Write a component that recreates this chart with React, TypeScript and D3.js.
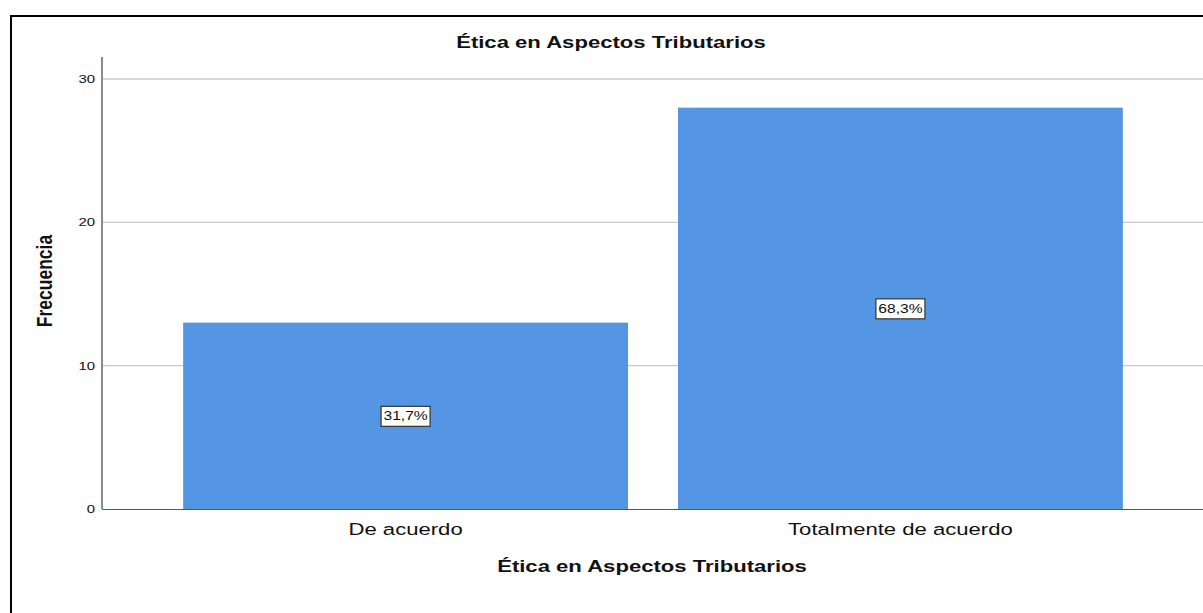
import * as d3 from 'd3'
import { useEffect, useRef } from 'react'

// data
const categories = ['De acuerdo', 'Totalmente de acuerdo']
const frequencies = [13, 28]
const percentLabels = ['31,7%', '68,3%']
const yTicks = [0, 10, 20, 30]

const chartTitle = 'Ética en Aspectos Tributarios'
const xTitle = 'Ética en Aspectos Tributarios'
const yTitle = 'Frecuencia'

const width = 1203
const height = 613
const barColor = '#5596E4'
// the original output is stretched horizontally
const stretch = 1.3

const App = () => {
  const svgRef = useRef<SVGSVGElement>(null)

  useEffect(() => {
    const svg = d3.select(svgRef.current)
    svg.selectAll('*').remove()

    const plot = { left: 102, right: 1204, top: 57, bottom: 509 }

    // scales
    const xScale = d3
      .scaleBand<string>()
      .domain(categories)
      .range([plot.left, plot.right])
      .paddingInner(0.101)
      .paddingOuter(0.164)

    const yScale = d3.scaleLinear().domain([0, 30]).range([plot.bottom, 79])

    // frame
    svg
      .append('path')
      .attr('d', `M11,${height} L11,16 L${width},16`)
      .attr('fill', 'none')
      .attr('stroke', '#000')
      .attr('stroke-width', 2)

    // grid
    svg
      .append('g')
      .selectAll('line')
      .data(yTicks.slice(1))
      .enter()
      .append('line')
      .attr('x1', plot.left)
      .attr('x2', width)
      .attr('y1', (d) => yScale(d))
      .attr('y2', (d) => yScale(d))
      .attr('stroke', '#c9c9c9')
      .attr('stroke-width', 1.3)

    // bars
    svg
      .append('g')
      .selectAll('rect')
      .data(frequencies)
      .enter()
      .append('rect')
      .attr('x', (_, i) => xScale(categories[i]) as number)
      .attr('width', xScale.bandwidth())
      .attr('y', (d) => yScale(d))
      .attr('height', (d) => yScale(0) - yScale(d))
      .attr('fill', barColor)

    // axes lines
    svg
      .append('line')
      .attr('x1', plot.left)
      .attr('x2', plot.left)
      .attr('y1', plot.top)
      .attr('y2', plot.bottom)
      .attr('stroke', '#8a8a8a')
      .attr('stroke-width', 2)
    svg
      .append('line')
      .attr('x1', plot.left)
      .attr('x2', width)
      .attr('y1', plot.bottom + 0.5)
      .attr('y2', plot.bottom + 0.5)
      .attr('stroke', '#555')
      .attr('stroke-width', 1.2)

    const stretchedText = (x: number, y: number, txt: string, size: number, weight: string, anchor: string) => {
      const g = svg.append('g').attr('transform', `translate(${x},${y}) scale(${stretch},1)`)
      g.append('text')
        .text(txt)
        .attr('text-anchor', anchor)
        .attr('font-family', '"Liberation Sans", Arial, sans-serif')
        .attr('font-size', size)
        .attr('font-weight', weight)
        .attr('fill', '#111')
      return g
    }

    // y tick labels
    yTicks.forEach((t) => {
      stretchedText(95, yScale(t) + 4, String(t), 11.5, 'normal', 'end')
    })

    // category labels
    categories.forEach((c) => {
      stretchedText((xScale(c) as number) + xScale.bandwidth() / 2, 535, c, 17, 'normal', 'middle')
    })

    // titles
    stretchedText(611, 48, chartTitle, 17, 'bold', 'middle')
    stretchedText(652, 572, xTitle, 17, 'bold', 'middle')
    svg
      .append('g')
      .attr('transform', `translate(52,281) scale(${stretch},1) rotate(-90)`)
      .append('text')
      .text(yTitle)
      .attr('text-anchor', 'middle')
      .attr('font-family', '"Liberation Sans", Arial, sans-serif')
      .attr('font-size', 17.5)
      .attr('font-weight', 'bold')
      .attr('fill', '#111')

    // percentage boxes in the middle of each bar
    frequencies.forEach((f, i) => {
      const cx = (xScale(categories[i]) as number) + xScale.bandwidth() / 2
      const cy = yScale(f / 2)
      svg
        .append('rect')
        .attr('x', cx - 24.5)
        .attr('y', cy - 9.5)
        .attr('width', 49)
        .attr('height', 20)
        .attr('fill', '#fff')
        .attr('stroke', '#333')
        .attr('stroke-width', 1.2)
      stretchedText(cx, cy + 4.5, percentLabels[i], 12, 'normal', 'middle')
    })
  }, [])

  return (
    <svg
      ref={svgRef}
      width={width}
      height={height}
      style={{ position: 'fixed', top: 0, left: 0, background: '#fff' }}
    ></svg>
  )
}

export default App
